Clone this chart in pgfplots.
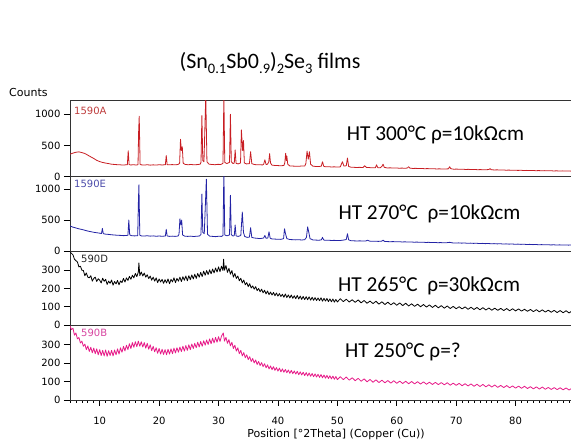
\documentclass[border=0pt]{standalone}
\usepackage{fontspec}
\setmainfont{DejaVu Sans}
\newfontfamily\calibri{Carlito}
\usepackage{pgfplots}
\pgfplotsset{compat=1.18}
\definecolor{cRed}{RGB}{200,30,35}
\definecolor{cBlue}{RGB}{35,35,165}
\definecolor{cPink}{RGB}{230,25,135}
\definecolor{lRed}{RGB}{190,60,60}
\definecolor{lBlue}{RGB}{75,75,170}
\definecolor{lPink}{RGB}{215,70,160}
\newcommand{\sub}[1]{\raisebox{-0.22em}{\fontsize{14.5}{16}\selectfont #1}}
\begin{document}
\begin{tikzpicture}[x=1pt,y=1pt]
\path[use as bounding box] (0,0) rectangle (571,-443);
\pgfplotsset{panel/.style={scale only axis, width=505pt, xmin=5, xmax=90, anchor=north west, ymin=0,
 tick pos=left, tick align=outside, major tick length=6pt, minor tick length=3pt,
 tick style={black, line width=0.7pt}, axis line style={black!80, line width=0.9pt},
 tick label style={font=\fontsize{10}{12}\selectfont},
 /pgf/number format/assume math mode=true, /pgf/number format/1000 sep={},
 no markers, clip=true, every axis plot/.append style={line width=0.8pt, line join=round}}}

% ---- 1590A ----
\begin{axis}[panel, at={(70pt,-100.7pt)}, height=76pt, ymax=1218, ytick={0,500,1000}, xtick=\empty]
\addplot[cRed] table[row sep=\\]{x y\\
5.0 360\\ 5.5 378\\ 6.0 392\\ 6.5 398\\ 7.0 386\\ 7.5 372\\ 8.0 345\\ 8.5 318\\ 9.0 292\\ 9.5 262\\
10.0 242\\ 10.5 228\\ 11.0 218\\ 11.5 210\\ 12.0 200\\ 12.5 196\\ 13.0 192\\ 13.5 190\\ 14.0 186\\ 14.5 192\\
14.65 190\\ 14.8 415\\ 14.95 195\\ 15.2 188\\ 15.7 192\\ 16.2 186\\ 16.45 195\\ 16.55 720\\ 16.65 970\\ 16.8 200\\
17.0 190\\ 17.5 186\\ 18.0 192\\ 18.5 185\\ 19.0 190\\ 19.5 186\\ 20.0 192\\ 20.5 188\\ 21.05 192\\ 21.2 340\\
21.35 194\\ 21.7 190\\ 22.2 194\\ 22.7 190\\ 23.2 196\\ 23.45 215\\ 23.6 600\\ 23.75 420\\ 23.9 480\\ 24.05 215\\
24.4 196\\ 24.9 192\\ 25.4 196\\ 25.9 190\\ 26.4 194\\ 26.9 200\\ 27.05 230\\ 27.2 980\\ 27.35 260\\ 27.55 240\\
27.85 1300\\ 28.05 240\\ 28.4 200\\ 28.9 196\\ 29.4 192\\ 29.9 198\\ 30.4 196\\ 30.75 215\\ 30.9 1300\\ 31.05 230\\
31.4 210\\ 31.85 230\\ 32.0 1000\\ 32.15 240\\ 32.45 210\\ 32.65 220\\ 32.8 430\\ 32.95 215\\ 33.3 205\\ 33.7 220\\
33.85 750\\ 34.05 420\\ 34.2 580\\ 34.35 220\\ 34.7 205\\ 35.2 210\\ 35.4 400\\ 35.6 210\\ 36.0 196\\ 36.5 190\\
37.0 192\\ 37.4 188\\ 37.6 200\\ 37.8 270\\ 38.0 195\\ 38.2 198\\ 38.45 230\\ 38.6 370\\ 38.75 220\\ 39.0 185\\
39.5 180\\ 40.0 178\\ 40.5 175\\ 41.0 180\\ 41.15 220\\ 41.3 375\\ 41.42 260\\ 41.5 330\\ 41.65 200\\ 42.0 172\\
42.5 170\\ 43.0 168\\ 43.5 166\\ 44.0 172\\ 44.5 170\\ 44.7 210\\ 44.9 410\\ 45.1 280\\ 45.3 400\\ 45.5 200\\
45.9 168\\ 46.4 164\\ 46.9 162\\ 47.3 170\\ 47.5 240\\ 47.7 168\\ 48.0 158\\ 48.5 160\\ 49.0 156\\ 49.5 158\\
50.0 154\\ 50.5 158\\ 50.85 240\\ 51.1 170\\ 51.5 175\\ 51.7 300\\ 51.9 165\\ 52.3 152\\ 52.8 150\\ 53.3 148\\
53.8 150\\ 54.3 146\\ 54.6 175\\ 54.9 148\\ 55.4 146\\ 55.9 142\\ 56.4 144\\ 56.6 190\\ 56.8 145\\ 57.2 142\\
57.5 165\\ 57.7 200\\ 57.9 150\\ 58.4 140\\ 58.9 142\\ 59.4 138\\ 59.9 140\\ 60.4 136\\ 60.9 138\\ 61.4 134\\
61.8 140\\ 62.0 160\\ 62.2 138\\ 62.7 132\\ 63.2 134\\ 63.7 130\\ 64.2 132\\ 64.7 128\\ 65.2 130\\ 65.7 126\\
66.2 128\\ 66.7 124\\ 67.2 126\\ 67.7 122\\ 68.2 124\\ 68.7 126\\ 68.9 160\\ 69.1 128\\ 69.6 120\\ 70.1 122\\
70.6 118\\ 71.1 120\\ 71.6 116\\ 72.1 118\\ 72.6 114\\ 73.1 116\\ 73.6 112\\ 74.1 114\\ 74.6 110\\ 75.1 112\\
75.5 115\\ 75.7 130\\ 75.9 112\\ 76.4 108\\ 76.9 110\\ 77.4 106\\ 77.9 108\\ 78.4 104\\ 78.9 106\\ 79.4 102\\
79.9 104\\ 80.4 101\\ 80.9 103\\ 81.4 99\\ 81.9 101\\ 82.4 98\\ 82.9 100\\ 83.4 96\\ 83.9 98\\ 84.4 95\\
84.9 97\\ 85.4 94\\ 85.9 96\\ 86.4 92\\ 86.9 94\\ 87.4 91\\ 87.9 93\\ 88.4 90\\ 88.9 92\\ 89.4 89\\ 90.0 90\\
};
\end{axis}

% ---- 1590E ----
\begin{axis}[panel, at={(70pt,-176.7pt)}, height=74.3pt, ymax=1200, ytick={0,500,1000}, xtick=\empty]
\addplot[cBlue] table[row sep=\\]{x y\\
5.0 405\\ 5.5 385\\ 6.0 372\\ 6.5 358\\ 7.0 348\\ 7.5 335\\ 8.0 322\\ 8.5 312\\ 9.0 302\\ 9.5 295\\
10.0 288\\ 10.3 282\\ 10.45 365\\ 10.6 280\\ 11.0 272\\ 11.5 268\\ 12.0 262\\ 12.5 258\\ 13.0 254\\ 13.5 252\\
14.0 248\\ 14.5 250\\ 14.75 255\\ 14.9 500\\ 15.05 260\\ 15.4 246\\ 15.9 244\\ 16.4 248\\ 16.5 750\\ 16.6 1070\\
16.75 255\\ 17.0 244\\ 17.5 242\\ 18.0 246\\ 18.5 240\\ 19.0 244\\ 19.5 238\\ 20.0 242\\ 20.5 238\\ 21.05 242\\
21.2 350\\ 21.35 244\\ 21.7 236\\ 22.2 240\\ 22.7 236\\ 23.2 242\\ 23.35 270\\ 23.5 520\\ 23.65 420\\ 23.8 500\\
23.95 260\\ 24.3 240\\ 24.8 236\\ 25.3 240\\ 25.8 234\\ 26.3 238\\ 26.8 242\\ 27.05 270\\ 27.2 920\\ 27.35 300\\
27.6 280\\ 27.95 1160\\ 28.15 270\\ 28.5 240\\ 29.0 236\\ 29.5 232\\ 30.0 238\\ 30.5 236\\ 30.75 250\\ 30.9 1300\\
31.05 260\\ 31.4 245\\ 31.85 260\\ 32.0 900\\ 32.15 265\\ 32.45 240\\ 32.65 250\\ 32.8 420\\ 32.95 245\\ 33.3 235\\
33.75 250\\ 34.0 630\\ 34.2 300\\ 34.4 235\\ 34.8 220\\ 35.2 225\\ 35.4 375\\ 35.6 220\\ 36.0 210\\ 36.5 205\\
37.0 200\\ 37.6 210\\ 37.8 250\\ 38.0 205\\ 38.3 210\\ 38.5 310\\ 38.7 205\\ 39.0 195\\ 39.5 192\\ 40.0 190\\
40.5 188\\ 40.95 200\\ 41.1 360\\ 41.3 270\\ 41.5 200\\ 42.0 185\\ 42.5 183\\ 43.0 180\\ 43.5 182\\ 44.0 178\\
44.5 182\\ 44.8 220\\ 45.0 390\\ 45.2 300\\ 45.4 200\\ 45.9 178\\ 46.4 176\\ 46.9 174\\ 47.3 180\\ 47.5 220\\
47.7 178\\ 48.0 172\\ 48.5 174\\ 49.0 170\\ 49.5 172\\ 50.0 168\\ 50.5 170\\ 51.0 176\\ 51.5 185\\ 51.7 280\\
51.9 180\\ 52.3 166\\ 52.8 164\\ 53.3 162\\ 53.8 164\\ 54.3 160\\ 54.8 162\\ 55.1 175\\ 55.4 160\\ 55.9 156\\
56.4 158\\ 56.9 155\\ 57.5 160\\ 57.7 175\\ 57.9 156\\ 58.4 152\\ 58.9 150\\ 59.4 152\\ 59.9 148\\ 60.4 150\\
60.9 146\\ 61.4 148\\ 61.9 144\\ 62.4 146\\ 62.9 142\\ 63.4 144\\ 63.9 140\\ 64.4 142\\ 64.9 138\\ 65.4 140\\
65.9 136\\ 66.4 138\\ 66.9 134\\ 67.4 136\\ 67.9 132\\ 68.4 134\\ 68.9 140\\ 69.4 131\\ 69.9 129\\ 70.4 131\\
70.9 127\\ 71.4 129\\ 71.9 125\\ 72.4 127\\ 72.9 123\\ 73.4 125\\ 73.9 121\\ 74.4 123\\ 74.9 119\\ 75.4 121\\
75.9 117\\ 76.4 119\\ 76.9 115\\ 77.4 117\\ 77.9 113\\ 78.4 115\\ 78.9 111\\ 79.4 113\\ 79.9 109\\ 80.4 111\\
80.9 107\\ 81.4 109\\ 81.9 105\\ 82.4 107\\ 82.9 103\\ 83.4 105\\ 83.9 101\\ 84.4 103\\ 84.9 100\\ 85.4 102\\
85.9 98\\ 86.4 100\\ 86.9 97\\ 87.4 99\\ 87.9 96\\ 88.4 98\\ 88.9 95\\ 89.4 97\\ 90.0 95\\
};
\end{axis}

% ---- 590D ----
\begin{axis}[panel, at={(70pt,-251pt)}, height=74pt, ymax=405, ytick={0,100,200,300}, xtick=\empty]
\addplot[black] table[row sep=\\]{x y\\
5.00 400\\ 5.25 392\\ 5.50 384\\ 5.75 360\\ 6.00 352\\ 6.25 345\\ 6.50 318\\ 6.75 322\\ 7.00 300\\ 7.25 298\\
7.50 270\\ 7.75 285\\ 8.00 262\\ 8.25 258\\ 8.50 270\\ 8.75 240\\ 9.00 255\\ 9.25 262\\ 9.50 238\\ 9.75 253\\
10.00 245\\ 10.25 230\\ 10.50 256\\ 10.75 239\\ 11.00 250\\ 11.25 222\\ 11.50 240\\ 11.75 228\\ 12.00 246\\ 12.25 218\\
12.50 238\\ 12.75 225\\ 13.00 244\\ 13.25 220\\ 13.50 241\\ 13.75 232\\ 14.00 255\\ 14.25 235\\ 14.50 258\\ 14.75 244\\
15.00 266\\ 15.25 250\\ 15.50 272\\ 15.75 258\\ 16.00 282\\ 16.25 265\\ 16.50 290\\ 16.60 340\\ 16.75 270\\ 17.00 290\\
17.25 268\\ 17.50 284\\ 17.75 262\\ 18.00 275\\ 18.25 254\\ 18.50 268\\ 18.75 245\\ 19.00 262\\ 19.25 240\\ 19.50 258\\
19.75 232\\ 20.00 252\\ 20.25 235\\ 20.50 250\\ 20.75 228\\ 21.00 248\\ 21.25 230\\ 21.50 252\\ 21.75 226\\ 22.00 250\\
22.25 236\\ 22.50 258\\ 22.75 232\\ 23.00 255\\ 23.25 240\\ 23.50 262\\ 23.75 238\\ 24.00 264\\ 24.25 245\\ 24.50 268\\
24.75 242\\ 25.00 270\\ 25.25 248\\ 25.50 274\\ 25.75 252\\ 26.00 278\\ 26.25 255\\ 26.50 282\\ 26.75 262\\ 27.00 288\\
27.25 265\\ 27.50 295\\ 27.75 272\\ 28.00 298\\ 28.25 276\\ 28.50 302\\ 28.75 280\\ 29.00 306\\ 29.25 285\\ 29.50 312\\
29.75 290\\ 30.00 318\\ 30.25 292\\ 30.50 322\\ 30.75 298\\ 30.85 360\\ 31.00 300\\ 31.25 325\\ 31.50 288\\ 31.75 310\\
32.00 278\\ 32.25 298\\ 32.50 262\\ 32.75 282\\ 33.00 255\\ 33.25 268\\ 33.50 242\\ 33.75 256\\ 34.00 230\\ 34.25 246\\
34.50 220\\ 34.75 232\\ 35.00 210\\ 35.25 226\\ 35.50 202\\ 35.75 214\\ 36.00 196\\ 36.25 210\\ 36.50 188\\ 36.75 200\\
37.00 182\\ 37.25 196\\ 37.50 176\\ 37.75 190\\ 38.00 170\\ 38.25 186\\ 38.50 166\\ 38.75 180\\ 39.00 164\\ 39.25 178\\
39.50 160\\ 39.75 175\\ 40.00 158\\ 40.25 172\\ 40.50 156\\ 40.75 168\\ 41.00 152\\ 41.25 170\\ 41.50 150\\ 41.75 165\\
42.00 148\\ 42.25 164\\ 42.50 146\\ 42.75 160\\ 43.00 144\\ 43.25 162\\ 43.50 142\\ 43.75 158\\ 44.00 140\\ 44.25 156\\
44.50 139\\ 44.75 155\\ 45.00 138\\ 45.25 154\\ 45.50 136\\ 45.75 152\\ 46.00 135\\ 46.25 150\\ 46.50 134\\ 46.75 148\\
47.00 133\\ 47.25 149\\ 47.50 130\\ 47.75 146\\ 48.00 131\\ 48.25 145\\ 48.50 128\\ 48.75 143\\ 49.00 127\\ 49.25 142\\
49.50 125\\ 49.75 140\\ 50.00 126\\
50.5 144\\ 51 128\\ 51.5 141\\ 52 126\\ 52.5 138\\ 53 124\\ 53.5 137\\ 54 121\\ 54.5 134\\ 55 119\\
55.5 131\\ 56 117\\ 56.5 130\\ 57 114\\ 57.5 127\\ 58 112\\ 58.5 125\\ 59 110\\ 59.5 122\\ 60 108\\
60.5 121\\ 61 106\\ 61.5 119\\ 62 104\\ 62.5 116\\ 63 102\\ 63.5 114\\ 64 100\\ 64.5 112\\ 65 98\\
65.5 110\\ 66 96\\ 66.5 108\\ 67 94\\ 67.5 106\\ 68 92\\ 68.5 104\\ 69 90\\ 69.5 102\\ 70 89\\
70.5 100\\ 71 88\\ 71.5 99\\ 72 86\\ 72.5 97\\ 73 85\\ 73.5 96\\ 74 83\\ 74.5 95\\ 75 82\\
75.5 93\\ 76 81\\ 76.5 92\\ 77 80\\ 77.5 91\\ 78 79\\ 78.5 90\\ 79 78\\ 79.5 89\\ 80 77\\
80.5 88\\ 81 76\\ 81.5 86\\ 82 75\\ 82.5 85\\ 83 73\\ 83.5 84\\ 84 72\\ 84.5 83\\ 85 71\\
85.5 81\\ 86 70\\ 86.5 80\\ 87 68\\ 87.5 79\\ 88 67\\ 88.5 78\\ 89 66\\ 89.5 77\\ 90 65\\
};
\end{axis}

% ---- 590B ----
\begin{axis}[panel, at={(70pt,-325pt)}, height=75pt, ymax=405, ytick={0,100,200,300},
 xtick={10,20,...,80}, minor xtick={5,...,90}, xticklabel style={yshift=-8pt}]
\addplot[cPink] table[row sep=\\]{x y\\
5.00 400\\ 5.25 380\\ 5.50 388\\ 5.75 350\\ 6.00 362\\ 6.25 330\\ 6.50 338\\ 6.75 308\\ 7.00 318\\ 7.25 290\\
7.50 302\\ 7.75 272\\ 8.00 292\\ 8.25 262\\ 8.50 285\\ 8.75 255\\ 9.00 280\\ 9.25 250\\ 9.50 276\\ 9.75 244\\
10.00 272\\ 10.25 240\\ 10.50 268\\ 10.75 238\\ 11.00 270\\ 11.25 236\\ 11.50 266\\ 11.75 240\\ 12.00 268\\ 12.25 238\\
12.50 270\\ 12.75 244\\ 13.00 276\\ 13.25 248\\ 13.50 282\\ 13.75 258\\ 14.00 290\\ 14.25 265\\ 14.50 296\\ 14.75 272\\
15.00 304\\ 15.25 278\\ 15.50 310\\ 15.75 285\\ 16.00 315\\ 16.25 288\\ 16.50 318\\ 16.75 290\\ 17.00 314\\ 17.25 286\\
17.50 310\\ 17.75 280\\ 18.00 306\\ 18.25 274\\ 18.50 298\\ 18.75 266\\ 19.00 290\\ 19.25 260\\ 19.50 282\\ 19.75 252\\
20.00 278\\ 20.25 248\\ 20.50 274\\ 20.75 246\\ 21.00 272\\ 21.25 244\\ 21.50 274\\ 21.75 248\\ 22.00 276\\ 22.25 250\\
22.50 280\\ 22.75 254\\ 23.00 282\\ 23.25 258\\ 23.50 286\\ 23.75 262\\ 24.00 290\\ 24.25 264\\ 24.50 294\\ 24.75 268\\
25.00 298\\ 25.25 272\\ 25.50 302\\ 25.75 278\\ 26.00 306\\ 26.25 282\\ 26.50 312\\ 26.75 286\\ 27.00 316\\ 27.25 290\\
27.50 320\\ 27.75 296\\ 28.00 324\\ 28.25 300\\ 28.50 330\\ 28.75 304\\ 29.00 334\\ 29.25 308\\ 29.50 338\\ 29.75 312\\
30.00 342\\ 30.25 316\\ 30.50 345\\ 30.80 362\\ 31.00 318\\ 31.25 338\\ 31.50 306\\ 31.75 326\\ 32.00 292\\ 32.25 312\\
32.50 278\\ 32.75 296\\ 33.00 264\\ 33.25 282\\ 33.50 250\\ 33.75 268\\ 34.00 238\\ 34.25 256\\ 34.50 228\\ 34.75 244\\
35.00 218\\ 35.25 234\\ 35.50 208\\ 35.75 224\\ 36.00 200\\ 36.25 216\\ 36.50 192\\ 36.75 208\\ 37.00 186\\ 37.25 202\\
37.50 180\\ 37.75 196\\ 38.00 174\\ 38.25 190\\ 38.50 168\\ 38.75 184\\ 39.00 164\\ 39.25 180\\ 39.50 160\\ 39.75 175\\
40.00 156\\ 40.25 172\\ 40.50 152\\ 40.75 168\\ 41.00 150\\ 41.25 165\\ 41.50 147\\ 41.75 162\\ 42.00 144\\ 42.25 160\\
42.50 142\\ 42.75 157\\ 43.00 140\\ 43.25 155\\ 43.50 137\\ 43.75 152\\ 44.00 135\\ 44.25 150\\ 44.50 132\\ 44.75 148\\
45.00 130\\ 45.25 146\\ 45.50 128\\ 45.75 143\\ 46.00 126\\ 46.25 141\\ 46.50 124\\ 46.75 139\\ 47.00 122\\ 47.25 137\\
47.50 120\\ 47.75 135\\ 48.00 118\\ 48.25 133\\ 48.50 116\\ 48.75 131\\ 49.00 114\\ 49.25 129\\ 49.50 112\\ 49.75 127\\
50.00 110\\
50.5 126\\ 51 110\\ 51.5 124\\ 52 107\\ 52.5 120\\ 53 104\\ 53.5 117\\ 54 101\\ 54.5 114\\ 55 98\\
55.5 111\\ 56 96\\ 56.5 109\\ 57 94\\ 57.5 107\\ 58 93\\ 58.5 105\\ 59 91\\ 59.5 104\\ 60 90\\
60.5 102\\ 61 89\\ 61.5 101\\ 62 88\\ 62.5 100\\ 63 87\\ 63.5 99\\ 64 86\\ 64.5 98\\ 65 85\\
65.5 96\\ 66 84\\ 66.5 95\\ 67 83\\ 67.5 94\\ 68 82\\ 68.5 93\\ 69 80\\ 69.5 91\\ 70 79\\
70.5 90\\ 71 77\\ 71.5 88\\ 72 76\\ 72.5 87\\ 73 74\\ 73.5 85\\ 74 73\\ 74.5 84\\ 75 71\\
75.5 82\\ 76 70\\ 76.5 81\\ 77 68\\ 77.5 79\\ 78 67\\ 78.5 78\\ 79 66\\ 79.5 76\\ 80 64\\
80.5 75\\ 81 63\\ 81.5 74\\ 82 62\\ 82.5 72\\ 83 60\\ 83.5 71\\ 84 59\\ 84.5 70\\ 85 58\\
85.5 68\\ 86 57\\ 86.5 67\\ 87 56\\ 87.5 66\\ 88 55\\ 88.5 65\\ 89 54\\ 89.5 64\\ 90 53\\
};
\end{axis}

% ---- texts ----
\node[anchor=base, inner sep=0, font=\calibri\fontsize{22}{26}\selectfont] at (270pt,-69pt)
 {(Sn\sub{0.1}Sb0\sub{.9})\sub{2}Se\sub{3} films};
\node[anchor=base west, inner sep=0, font=\fontsize{11}{13}\selectfont] at (9pt,-97pt) {Counts};
\node[anchor=base, inner sep=0, font=\fontsize{11}{13}\selectfont] at (336pt,-438pt) {Position [°2Theta] (Copper (Cu))};
\node[anchor=base west, inner sep=0, text=lRed, font=\fontsize{10}{12}\selectfont] at (74pt,-114.3pt) {1590A};
\node[anchor=base west, inner sep=0, text=lBlue, font=\fontsize{10}{12}\selectfont] at (74pt,-187.5pt) {1590E};
\node[anchor=base west, inner sep=0, text=black!85, font=\fontsize{10}{12}\selectfont] at (81pt,-263pt) {590D};
\node[anchor=base west, inner sep=0, text=lPink, font=\fontsize{10}{12}\selectfont] at (81pt,-336.7pt) {590B};
\node[anchor=base west, inner sep=0, font=\calibri\fontsize{21.3}{25}\selectfont] at (346.7pt,-141pt) {HT 300°C ρ=10kΩcm};
\node[anchor=base west, inner sep=0, font=\calibri\fontsize{21.3}{25}\selectfont] at (338.3pt,-219.3pt) {HT 270°C\ \ ρ=10kΩcm};
\node[anchor=base west, inner sep=0, font=\calibri\fontsize{21.3}{25}\selectfont] at (338pt,-291.7pt) {HT 265°C\ \ ρ=30kΩcm};
\node[anchor=base west, inner sep=0, font=\calibri\fontsize{21.3}{25}\selectfont] at (345pt,-358pt) {HT 250°C ρ=?};
\end{tikzpicture}
\end{document}
